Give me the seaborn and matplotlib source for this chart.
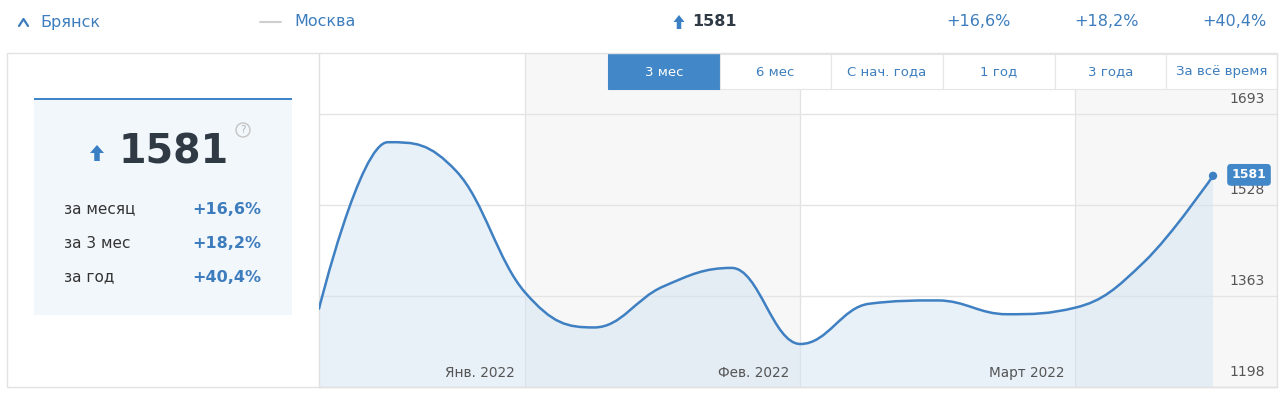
import numpy as np
import pandas as pd
import matplotlib
matplotlib.use("Agg")
import matplotlib.pyplot as plt
import matplotlib.transforms as mtransforms
from matplotlib.path import Path
from matplotlib.patches import PathPatch, Rectangle, Polygon, Circle
import seaborn as sns

# ---------------- data ----------------
city = "Брянск"
compare_city = "Москва"
weeks = list(range(14))
index_values = [1340, 1642, 1589, 1369, 1306, 1380, 1414, 1276, 1349, 1355, 1330, 1342, 1425, 1581]
current_value = 1581
month_labels = ["Янв. 2022", "Фев. 2022", "Март 2022"]
month_ends = [3, 7, 11]
y_ticks = [1198, 1363, 1528, 1693]
change_periods = ["за месяц", "за 3 мес", "за год"]
change_values = ["+16,6%", "+18,2%", "+40,4%"]
tabs = ["3 мес", "6 мес", "С нач. года", "1 год", "3 года", "За всё время"]

# ---------------- style ----------------
sns.set_theme(style="white")
plt.rcParams["font.family"] = ["DejaVu Sans"]

W, H = 1280, 394
BLUE = "#3f80c2"
TXT_BLUE = "#3d7dbd"
DARK = "#2f3a45"
GRAY_TXT = "#555555"
GRID = "#e4e4e4"
BAND = "#f7f7f7"

fig = plt.figure(figsize=(W / 100, H / 100), dpi=100)
fig.patch.set_facecolor("white")
PX = fig.dpi_scale_trans  # 1 unit = 100 px at dpi 100


def p(x, y):
    return (x / 100, (H - y) / 100)


def ftext(x, y, s, **kw):
    fig.text(x / W, 1 - y / H, s, **kw)


# ---------------- chart axes ----------------
ax_left, ax_right, ax_top, ax_bot = 319, 1277, 54, 387
ax = fig.add_axes([ax_left / W, 1 - ax_bot / H, (ax_right - ax_left) / W, (ax_bot - ax_top) / H])
x_last_px = 1213
xmax = weeks[-1] * (ax_right - ax_left) / (x_last_px - ax_left)
ymin, ymax = 1198, 1802
ax.set_facecolor("white")

# month bands
edges = [0] + month_ends + [xmax]
for i in range(len(edges) - 1):
    if i % 2 == 1:
        ax.axvspan(edges[i], edges[i + 1], color=BAND, lw=0, zorder=0)
for m in month_ends:
    ax.axvline(m, color="#e2e2e2", lw=0.9, zorder=0.5)
for t in y_ticks[1:]:
    ax.axhline(t, color=GRID, lw=1.0, zorder=0.6)


# smooth (Highcharts-like) spline through the data points
def spline_vertices(xs, ys, sm=1.5):
    n = len(xs)
    lefts, rights = [None] * n, [None] * n
    for i in range(1, n - 1):
        d = sm + 1
        lx = (sm * xs[i] + xs[i - 1]) / d
        ly = (sm * ys[i] + ys[i - 1]) / d
        rx = (sm * xs[i] + xs[i + 1]) / d
        ry = (sm * ys[i] + ys[i + 1]) / d
        corr = ((ry - ly) * (rx - xs[i])) / (rx - lx) + ys[i] - ry
        ly += corr
        ry += corr
        if ly > max(ys[i - 1], ys[i]):
            ly = max(ys[i - 1], ys[i]); ry = 2 * ys[i] - ly
        elif ly < min(ys[i - 1], ys[i]):
            ly = min(ys[i - 1], ys[i]); ry = 2 * ys[i] - ly
        if ry > max(ys[i + 1], ys[i]):
            ry = max(ys[i + 1], ys[i]); ly = 2 * ys[i] - ry
        elif ry < min(ys[i + 1], ys[i]):
            ry = min(ys[i + 1], ys[i]); ly = 2 * ys[i] - ry
        lefts[i] = (lx, ly)
        rights[i] = (rx, ry)
    verts = [(xs[0], ys[0])]
    codes = [Path.MOVETO]
    for i in range(1, n):
        c1 = rights[i - 1] or (xs[i - 1], ys[i - 1])
        c2 = lefts[i] or (xs[i], ys[i])
        verts += [c1, c2, (xs[i], ys[i])]
        codes += [Path.CURVE4] * 3
    return verts, codes


verts, codes = spline_vertices(weeks, index_values)
fill_verts = verts + [(weeks[-1], ymin), (weeks[0], ymin), (weeks[0], index_values[0])]
fill_codes = codes + [Path.LINETO, Path.LINETO, Path.CLOSEPOLY]
ax.add_patch(PathPatch(Path(fill_verts, fill_codes), facecolor="#d3e2f3", alpha=0.5, lw=0, zorder=1))
ax.add_patch(PathPatch(Path(verts, codes), facecolor="none", edgecolor=BLUE, lw=1.8, zorder=3,
                       capstyle="round", joinstyle="round"))

df_last = pd.DataFrame({"week": [weeks[-1]], "value": [index_values[-1]]})
sns.scatterplot(data=df_last, x="week", y="value", ax=ax, s=36, color=BLUE, edgecolor="none", zorder=4,
                legend=False)
ax.set_xlabel("")
ax.set_ylabel("")
ax.set_xlim(0, xmax)
ax.set_ylim(ymin, ymax)

ax.annotate(str(current_value), xy=(weeks[-1], index_values[-1]), xytext=(36, 1),
            textcoords="offset pixels", ha="center", va="center", color="white",
            fontsize=9, fontweight="bold", zorder=6,
            bbox=dict(boxstyle="round,pad=0.35,rounding_size=0.3", fc="#4287c8", ec="none"))

# y labels inside the plot
ytrans = mtransforms.offset_copy(ax.get_yaxis_transform(), fig=fig, x=0, y=15, units="dots")
for t in y_ticks:
    ax.text((1265 - ax_left) / (ax_right - ax_left), t, str(t), transform=ytrans, ha="right", va="center",
            fontsize=10, color=GRAY_TXT, zorder=5)

mtrans = mtransforms.offset_copy(mtransforms.blended_transform_factory(ax.transData, ax.transAxes),
                                 fig=fig, x=-11, y=0, units="dots")
for m, lab in zip(month_ends, month_labels):
    ax.text(m, (ax_bot - 373) / (ax_bot - ax_top), lab, transform=mtrans, ha="right", va="center",
            fontsize=9.8, color=GRAY_TXT, zorder=5)

ax.set_xticks([])
ax.set_yticks([])
for s in ["top", "right"]:
    ax.spines[s].set_visible(False)
for s in ["left", "bottom"]:
    ax.spines[s].set_color("#e0e0e0")
    ax.spines[s].set_linewidth(1.0)

# ---------------- tabs ----------------
tab_edges = [608, 720, 831, 943, 1055, 1166, 1277]
for i, lab in enumerate(tabs):
    x0, x1 = tab_edges[i], tab_edges[i + 1]
    sel = i == 0
    fig.add_artist(Rectangle(p(x0, 89), (x1 - x0) / 100, 35 / 100, transform=PX,
                             facecolor="#4287c8" if sel else "white",
                             edgecolor="#4287c8" if sel else "#e6e6e6", lw=0.8, zorder=2))
    ftext((x0 + x1) / 2, 72, lab, ha="center", va="center", fontsize=9.5,
          color="white" if sel else TXT_BLUE, zorder=3)

# outer border
fig.add_artist(Rectangle(p(7, 387), 1270 / 100, 334 / 100, transform=PX, facecolor="none",
                         edgecolor="#e2e2e2", lw=1.0, zorder=4))

# ---------------- header ----------------
fig.add_artist(plt.Line2D([19 / 100, 23.5 / 100, 28 / 100], [(H - 26) / 100, (H - 19) / 100, (H - 26) / 100],
                          transform=PX, color=TXT_BLUE, lw=1.6, solid_capstyle="round", zorder=3))
ftext(40, 22, city, ha="left", va="center", fontsize=11.5, color=TXT_BLUE)
fig.add_artist(plt.Line2D([260 / 100, 281 / 100], [(H - 22) / 100, (H - 22) / 100], transform=PX,
                          color="#cfcfcf", lw=1.5, zorder=3))
ftext(294, 22, compare_city, ha="left", va="center", fontsize=11.5, color=TXT_BLUE)


def arrow(cx, top, w, h, stem_w, color):
    head_h = h * 0.5
    pts = [(cx - w / 2, top + head_h), (cx, top), (cx + w / 2, top + head_h),
           (cx + stem_w / 2, top + head_h), (cx + stem_w / 2, top + h),
           (cx - stem_w / 2, top + h), (cx - stem_w / 2, top + head_h)]
    fig.add_artist(Polygon([p(x, y) for x, y in pts], closed=True, transform=PX, facecolor=color,
                           edgecolor="none", zorder=3))


arrow(679, 15, 11, 14, 4.5, "#3a7fc4")
ftext(692, 22, str(current_value), ha="left", va="center", fontsize=11.5, fontweight="bold", color=DARK)
for xr, v in zip([1011, 1139, 1266], change_values):
    ftext(xr, 22, v, ha="right", va="center", fontsize=11.5, color=TXT_BLUE)

# ---------------- left panel ----------------
fig.add_artist(Rectangle(p(34, 315), 258 / 100, 217 / 100, transform=PX, facecolor="#f2f7fc",
                         edgecolor="none", zorder=1))
fig.add_artist(Rectangle(p(34, 100), 258 / 100, 2.5 / 100, transform=PX, facecolor="#3f85c8",
                         edgecolor="none", zorder=2))
arrow(97, 145, 14, 16, 5.5, "#3a7fc4")
ftext(174, 153, str(current_value), ha="center", va="center", fontsize=28.5, fontweight="bold", color=DARK)
fig.add_artist(Circle(p(243, 130), 7 / 100, transform=PX, facecolor="none", edgecolor="#c4c4c4", lw=1.0,
                      zorder=3))
ftext(243, 130, "?", ha="center", va="center", fontsize=7.5, color="#b5b5b5")
for yy, per, val in zip([209, 243, 277], change_periods, change_values):
    ftext(64, yy, per, ha="left", va="center", fontsize=11, color="#333333")
    ftext(261, yy, val, ha="right", va="center", fontsize=11.5, fontweight="bold", color=TXT_BLUE)

fig.savefig("out.png", dpi=100, facecolor="white")
